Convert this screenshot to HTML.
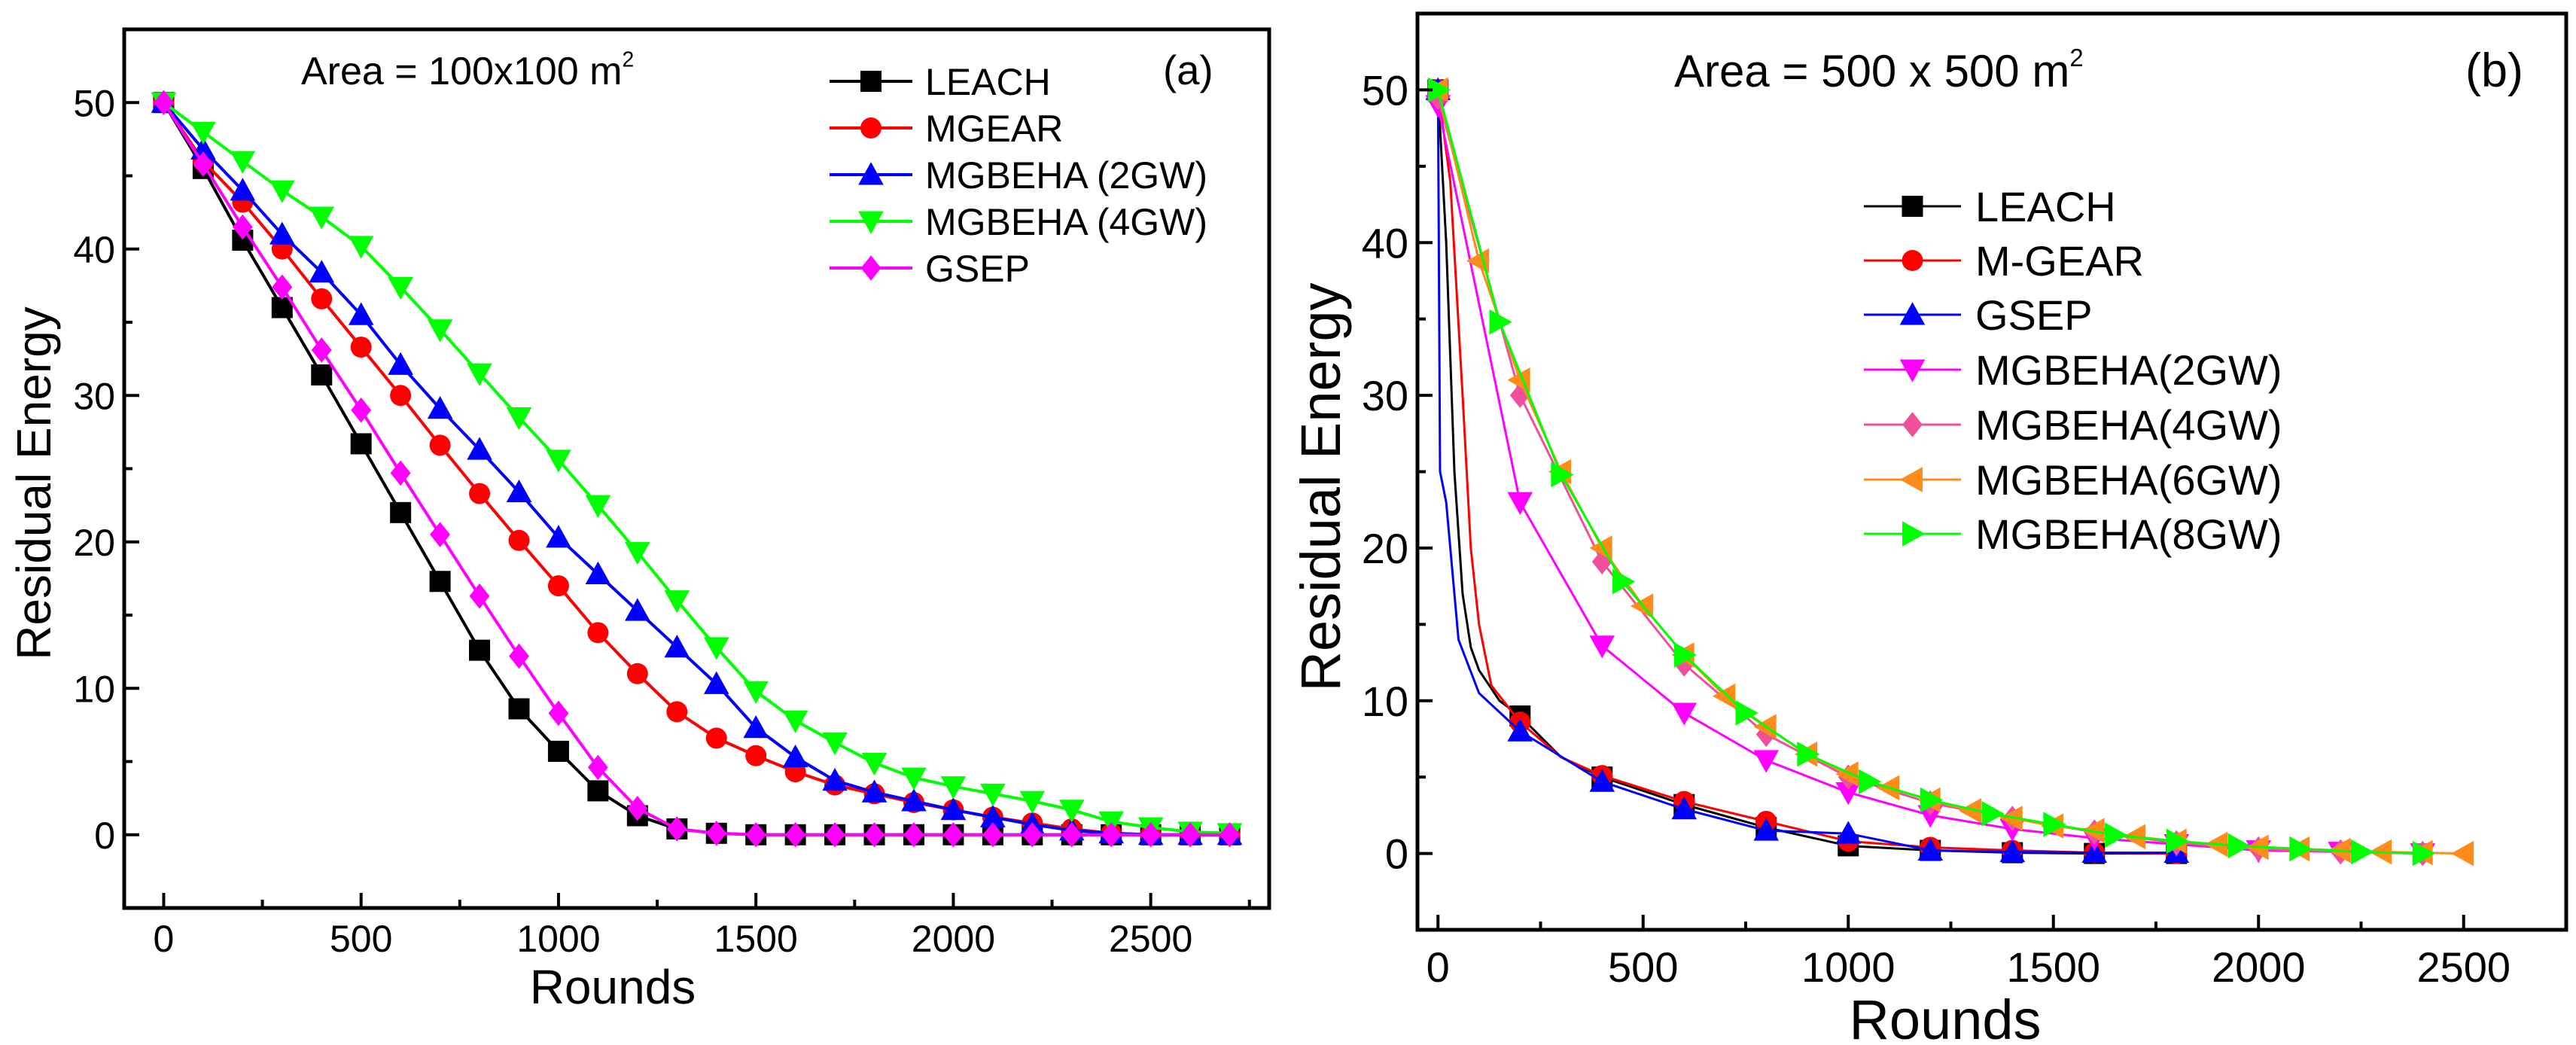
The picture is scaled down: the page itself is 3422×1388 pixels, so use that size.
<!DOCTYPE html>
<html><head><meta charset="utf-8"><style>
html,body{margin:0;padding:0;background:#fff;}
svg{display:block;font-family:"Liberation Sans",Arial,sans-serif;}
</style></head><body>
<svg id="fig" width="3422" height="1388" viewBox="0 0 3422 1388" xmlns="http://www.w3.org/2000/svg">
<g id="pa"></g>
<g id="pb"></g>
</svg>
<script>
// ---------- Panel (a) data ----------
const aRounds = [0,100,200,300,400,500,600,700,800,900,1000,1100,1200,1300,1400,1500,1600,1700,1800,1900,2000,2100,2200,2300,2400,2500,2600,2700];
const aLeach = [50,45.5,40.6,36,31.4,26.7,22,17.3,12.6,8.6,5.7,3,1.3,0.4,0.1,0,0,0,0,0,0,0,0,0,0,0,0,0];
const aMgear = [50,46,43.2,40,36.6,33.3,30,26.6,23.3,20.1,17,13.8,11,8.4,6.6,5.4,4.3,3.4,2.8,2.2,1.7,1.2,0.8,0.4,0.1,0,0,0];
const aMg2 = [50,46.8,44,41,38.4,35.5,32.1,29.1,26.3,23.4,20.3,17.8,15.3,12.8,10.3,7.3,5.3,3.7,2.9,2.3,1.7,1.2,0.7,0.3,0.1,0,0,0];
const aMg4 = [50,48,46,44,42.2,40.2,37.4,34.5,31.5,28.5,25.6,22.5,19.3,16,12.8,9.8,7.8,6.3,4.9,3.9,3.3,2.8,2.3,1.7,0.9,0.5,0.2,0.1];
const aGsep = [50,45.8,41.5,37.4,33.1,29,24.7,20.5,16.3,12.2,8.3,4.6,1.8,0.4,0.1,0,0,0,0,0,0,0,0,0,0,0,0,0];
const aXTicks = [0,500,1000,1500,2000,2500];
const aYTicks = [0,10,20,30,40,50];

// ---------- Panel (b) data ----------
const bLeachX = [0,20,40,60,80,100,150,200,300,400,600,800,1000,1200,1400,1600,1800];
const bLeachY = [50,40,25,17,13.5,12,10,9,6.3,5,3.2,1.7,0.5,0.2,0.05,0,0];
const bMgearX = [0,30,60,80,100,130,200,300,400,600,800,1000,1200,1400,1600,1800];
const bMgearY = [50,44,30,20,15,11,8.6,6.3,5.1,3.4,2.1,0.8,0.4,0.2,0.05,0];
const bGsepX = [0,5,20,50,100,200,400,600,800,1000,1200,1400,1600,1800];
const bGsepY = [50,25,23,14,10.5,8,4.7,2.9,1.5,1.3,0.2,0.1,0.05,0.05];
const bMg2X = [0,200,400,600,800,1000,1200,1400,1600,1800,2000,2200,2400];
const bMg2Y = [49,23,13.6,9.2,6.1,4,2.5,1.6,1,0.6,0.2,0.1,0];
const bMg4X = [0,200,400,600,800,1000,1200,1400,1600,1800,2000,2200,2400];
const bMg4Y = [49.5,30,19.1,12.4,7.8,5,3.3,2.3,1.4,0.7,0.3,0.1,0];
const bMg6X = [0,100,200,300,400,500,600,700,800,900,1000,1100,1200,1300,1400,1500,1600,1700,1800,1900,2000,2100,2200,2300,2400,2500];
const bMg6Y = [50,38.8,31,25,20,16.2,13,10.3,8.3,6.5,5.2,4.3,3.5,2.8,2.3,1.8,1.5,1.1,0.8,0.6,0.4,0.3,0.2,0.1,0.05,0];
const bMg8X = [0,150,300,450,600,750,900,1050,1200,1350,1500,1650,1800,1950,2100,2250,2400];
const bMg8Y = [50,34.8,24.8,17.8,13,9.2,6.5,4.7,3.5,2.6,1.9,1.2,0.8,0.5,0.3,0.1,0];
const bXTicks = [0,500,1000,1500,2000,2500];
const bYTicks = [0,10,20,30,40,50];

const NS="http://www.w3.org/2000/svg";
function mk(parent,tag,attrs,text){const e=document.createElementNS(NS,tag);for(const k in attrs)e.setAttribute(k,attrs[k]);if(text!==undefined)e.textContent=text;parent.appendChild(e);return e;}

function marker(g,shape,cx,cy,s,color){
  let e;
  if(shape==='square') e=mk(g,'rect',{x:cx-s/2,y:cy-s/2,width:s,height:s,fill:color});
  else if(shape==='circle') e=mk(g,'circle',{cx:cx,cy:cy,r:s/2,fill:color});
  else {
    const h=s*0.6;let pts;
    if(shape==='up') pts=[[cx,cy-h],[cx-h,cy+h*0.8],[cx+h,cy+h*0.8]];
    else if(shape==='down') pts=[[cx,cy+h],[cx-h,cy-h*0.8],[cx+h,cy-h*0.8]];
    else if(shape==='diamond') pts=[[cx,cy-h],[cx+h*0.8,cy],[cx,cy+h],[cx-h*0.8,cy]];
    else if(shape==='left') pts=[[cx-h,cy],[cx+h*0.8,cy-h],[cx+h*0.8,cy+h]];
    else pts=[[cx+h,cy],[cx-h*0.8,cy-h],[cx-h*0.8,cy+h]];
    e=mk(g,'polygon',{points:pts.map(p=>p.join(',')).join(' '),fill:color});
  }
  
  
}

function panel(g,cfg){
  const {L,R,T,B,x0,x1,y0,y1}=cfg;
  const sx=v=>L+(v-x0)/(x1-x0)*(R-L);
  const sy=v=>B-(v-y0)/(y1-y0)*(B-T);
  cfg.series.forEach(s=>{
    const sg=mk(g,'g',{});
    
    
    const pl=mk(sg,'polyline',{points:s.x.map((v,i)=>sx(v)+','+sy(s.y[i])).join(' '),fill:'none',stroke:s.color,'stroke-width':cfg.lw,'stroke-linejoin':'round'});
    
    
    s.x.forEach((v,i)=>{ if(!s.every || v % s.every===0) marker(sg,s.shape,sx(v),sy(s.y[i]),cfg.ms,s.color); });
  });
  const fr=mk(g,'rect',{x:L,y:T,width:R-L,height:B-T,fill:'none',stroke:'#000','stroke-width':5});
  
  
  cfg.xt.forEach(v=>{
    const t=mk(g,'line',{x1:sx(v),x2:sx(v),y1:B,y2:B-20,stroke:'#000','stroke-width':4});
    
    
    const m=mk(g,'line',{x1:sx(v+250),x2:sx(v+250),y1:B,y2:B-11,stroke:'#000','stroke-width':4});
    
    
    const lb=mk(g,'text',{x:sx(v),y:cfg.xlY,'text-anchor':'middle','font-size':cfg.tf},String(v));
    
    
  });
  cfg.yt.forEach(v=>{
    const t=mk(g,'line',{x1:L,x2:L+20,y1:sy(v),y2:sy(v),stroke:'#000','stroke-width':4});
    
    
    const m=mk(g,'line',{x1:L,x2:L+11,y1:sy(v-5),y2:sy(v-5),stroke:'#000','stroke-width':4});
    
    
    const lb=mk(g,'text',{x:L-12,y:sy(v)+cfg.tf*0.36,'text-anchor':'end','font-size':cfg.tf},String(v));
    
    
  });
  const xt=mk(g,'text',{x:cfg.xtX,y:cfg.xtY,'text-anchor':'middle','font-size':cfg.titf},'Rounds');
  
  
  const yt=mk(g,'text',{x:0,y:0,'text-anchor':'middle','font-size':cfg.titf,transform:`translate(${cfg.ytX},${cfg.ytY}) rotate(-90)`},'Residual Energy');
  
  
  cfg.series.forEach((s,i)=>{
    const lg=mk(g,'g',{});
    
    
    const y=cfg.lgY[i];
    mk(lg,'line',{x1:cfg.lgX1,x2:cfg.lgX2,y1:y,y2:y,stroke:s.color,'stroke-width':cfg.lw});
    marker(lg,s.shape,(cfg.lgX1+cfg.lgX2)/2,y,cfg.ms,s.color);
    mk(lg,'text',{x:cfg.lgTX,y:y+cfg.lf*0.36,'font-size':cfg.lf},s.name);
  });
  const an=mk(g,'text',{x:cfg.anX,y:cfg.anY,'font-size':cfg.anF});
  
  
  an.appendChild(document.createTextNode(cfg.anText));
  mk(an,'tspan',{'font-size':cfg.anF*0.55,dy:-cfg.anF*0.45},'2');
  const pl=mk(g,'text',{x:cfg.plX,y:cfg.anY,'font-size':cfg.anF*1.05},cfg.pl);
  
  
}

panel(document.getElementById('pa'),{
  L:165,R:1686,T:39,B:1206,x0:-100,x1:2800,y0:-5,y1:55,lw:4,ms:28,tf:50,titf:64,lf:50,
  xt:aXTicks,yt:aYTicks,xlY:1264,xtX:814,xtY:1333,ytX:67,ytY:642,
  lgX1:1102,lgX2:1212,lgTX:1229,lgY:[108,170,232,294,356],
  anX:400,anY:112,anF:52,anText:'Area = 100x100 m',plX:1545,pl:'(a)',
  series:[
    {id:'leach',name:'LEACH',x:aRounds,y:aLeach,color:'#000',shape:'square'},
    {id:'mgear',name:'MGEAR',x:aRounds,y:aMgear,color:'#f00',shape:'circle'},
    {id:'mgbeha-2gw',name:'MGBEHA (2GW)',x:aRounds,y:aMg2,color:'#00f',shape:'up'},
    {id:'mgbeha-4gw',name:'MGBEHA (4GW)',x:aRounds,y:aMg4,color:'#0f0',shape:'down'},
    {id:'gsep',name:'GSEP',x:aRounds,y:aGsep,color:'#f0f',shape:'diamond'}
  ]
});
panel(document.getElementById('pb'),{
  L:1883,R:3409,T:18,B:1235,x0:-50,x1:2750,y0:-5,y1:55,lw:3,ms:28,tf:56,titf:74,lf:56,
  xt:bXTicks,yt:bYTicks,xlY:1304,xtX:2584,xtY:1380,ytX:1780,ytY:647,
  lgX1:2476,lgX2:2605,lgTX:2624,lgY:[274,346,418,491,564,637,709],
  anX:2224,anY:115,anF:60,anText:'Area = 500 x 500 m',plX:3275,pl:'(b)',
  series:[
    {id:'leach',name:'LEACH',x:bLeachX,y:bLeachY,color:'#000',shape:'square',every:200},
    {id:'m-gear',name:'M-GEAR',x:bMgearX,y:bMgearY,color:'#f00',shape:'circle',every:200},
    {id:'gsep',name:'GSEP',x:bGsepX,y:bGsepY,color:'#00f',shape:'up',every:200},
    {id:'mgbeha-2gw',name:'MGBEHA(2GW)',x:bMg2X,y:bMg2Y,color:'#f0f',shape:'down'},
    {id:'mgbeha-4gw',name:'MGBEHA(4GW)',x:bMg4X,y:bMg4Y,color:'#f0509a',shape:'diamond'},
    {id:'mgbeha-6gw',name:'MGBEHA(6GW)',x:bMg6X,y:bMg6Y,color:'#ff8c1a',shape:'left'},
    {id:'mgbeha-8gw',name:'MGBEHA(8GW)',x:bMg8X,y:bMg8Y,color:'#0f0',shape:'right'}
  ]
});
</script>
</body></html>
